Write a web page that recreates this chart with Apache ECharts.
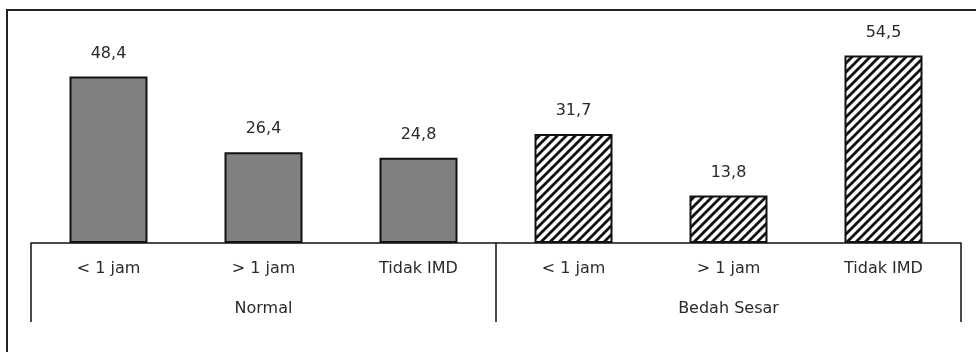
<!DOCTYPE html>
<html>
<head>
<meta charset="utf-8">
<script src="https://cdn.jsdelivr.net/npm/echarts@6/dist/echarts.min.js"></script>
<style>
  html, body { margin: 0; padding: 0; background: #ffffff; }
  #chart { width: 976px; height: 352px; }
</style>
</head>
<body>
<div id="chart"></div>
<script>
// Early breastfeeding initiation timing, by delivery type
const groups = ['Normal', 'Bedah Sesar'];
const timing = ['< 1 jam', '> 1 jam', 'Tidak IMD'];
const normalValues = [48.4, 26.4, 24.8];
const sesarValues = [31.7, 13.8, 54.5];

const categories = groups.flatMap((g, gi) => timing.map(t => t + '|' + gi));
const blank = timing.map(() => '-');

// Diagonal hatch tile for the caesarean bars
function hatchTile() {
  const s = 9;
  const c = document.createElement('canvas');
  c.width = s; c.height = s;
  const ctx = c.getContext('2d');
  ctx.fillStyle = '#ffffff';
  ctx.fillRect(0, 0, s, s);
  ctx.strokeStyle = '#111111';
  ctx.lineWidth = 2.8;
  ctx.beginPath();
  for (let k = -1; k <= 1; k++) {
    ctx.moveTo(-3 + k * s, s + 3);
    ctx.lineTo(s + 3 + k * s, -3);
  }
  ctx.stroke();
  return c;
}

const fmt = v => String(v).replace('.', ',');
const font = 'DejaVu Sans';
const textColor = '#2a2a2a';

const valueLabel = {
  show: true,
  position: 'top',
  distance: 15,
  fontFamily: font,
  fontSize: 16,
  color: textColor,
  formatter: p => fmt(p.value)
};

const chart = echarts.init(document.getElementById('chart'));
chart.setOption({
  backgroundColor: '#ffffff',
  animation: false,
  grid: { left: 31, right: 15, top: 9, bottom: 109 },
  xAxis: [
    {
      type: 'category',
      data: categories,
      position: 'bottom',
      axisLine: { show: true, lineStyle: { color: '#111111', width: 1.5 } },
      axisTick: { show: false },
      axisLabel: {
        margin: 18,
        fontFamily: font,
        fontSize: 16,
        color: textColor,
        formatter: v => v.split('|')[0]
      }
    },
    {
      type: 'category',
      data: groups,
      position: 'bottom',
      axisLine: { show: false },
      axisTick: {
        show: true,
        length: 79,
        lineStyle: { color: '#111111', width: 1.5 }
      },
      axisLabel: {
        margin: 58,
        fontFamily: font,
        fontSize: 16,
        color: textColor
      }
    }
  ],
  yAxis: {
    type: 'value',
    min: 0,
    max: 68,
    show: false
  },
  series: [
    {
      name: 'Normal',
      type: 'bar',
      xAxisIndex: 0,
      barWidth: 78,
      barGap: '-100%',
      data: normalValues.concat(blank),
      itemStyle: { color: '#808080', borderColor: '#111111', borderWidth: 2 },
      label: valueLabel
    },
    {
      name: 'Bedah Sesar',
      type: 'bar',
      xAxisIndex: 0,
      barWidth: 78,
      barGap: '-100%',
      data: blank.concat(sesarValues),
      itemStyle: {
        color: { image: hatchTile(), repeat: 'repeat' },
        borderColor: '#111111',
        borderWidth: 2
      },
      label: valueLabel
    }
  ],
  graphic: [
    {
      type: 'polyline',
      shape: { points: [[7, 352], [7, 10], [976, 10]] },
      style: { stroke: '#222222', lineWidth: 2, fill: null },
      silent: true
    }
  ]
});
</script>
</body>
</html>
